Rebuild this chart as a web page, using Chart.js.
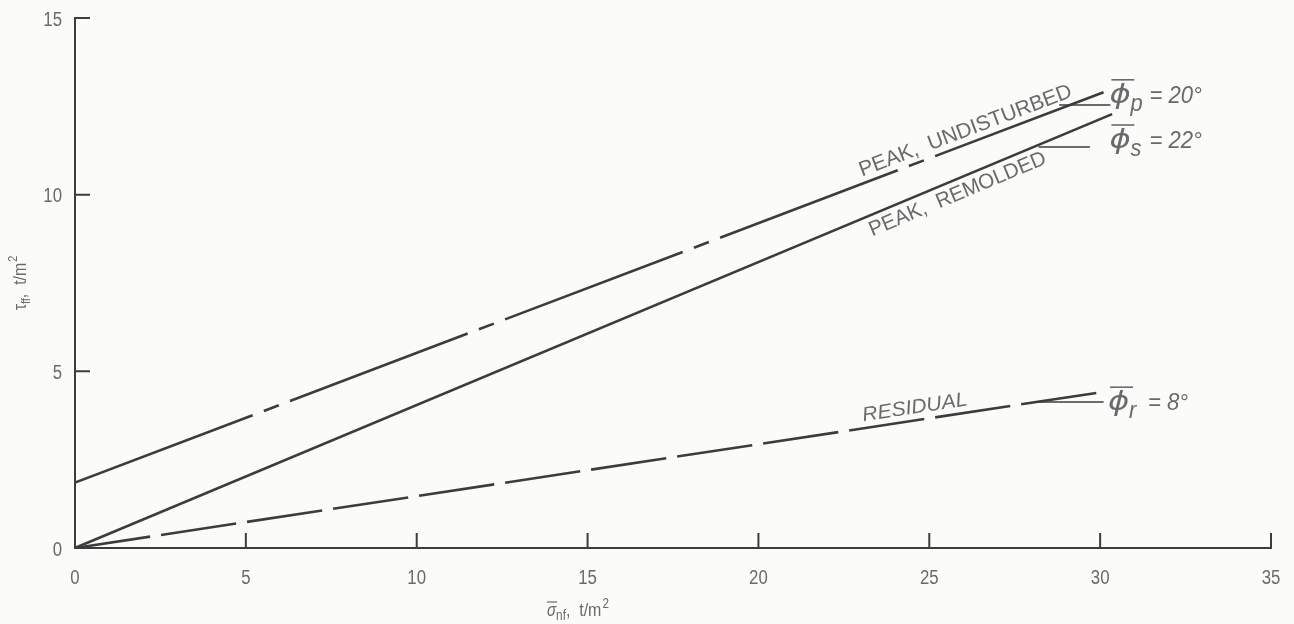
<!DOCTYPE html>
<html>
<head>
<meta charset="utf-8">
<script src="https://cdn.jsdelivr.net/npm/chart.js@4.4.1/dist/chart.umd.min.js"></script>
<style>
  html, body { margin: 0; padding: 0; background: #fbfbf9; }
  #wrap { width: 1294px; height: 624px; position: relative; }
</style>
</head>
<body>
<div id="wrap"><canvas id="chartEnvoltoria"></canvas></div>
<script>
// valores (sigma_nf, tau_ff em t/m2)
const xTicks = [0, 5, 10, 15, 20, 25, 30, 35];
const yTicks = [0, 5, 10, 15];

const undisturbedX = [0, 30.1];
const undisturbedY = [1.85, 12.9];
const remoldedX = [0, 30.35];
const remoldedY = [0, 12.28];
const residualX = [0, 30.1];
const residualY = [0, 4.42];

// linhas de chamada das legendas de phi
const leaderPX = [28.8, 30.3];
const leaderPY = [12.54, 12.54];
const leaderSX = [28.2, 29.7];
const leaderSY = [11.35, 11.35];
const leaderRX = [28.1, 30.1];
const leaderRY = [4.13, 4.13];

const FONT = "'Liberation Sans', Arial, sans-serif";
const PHI_FONT = "'DejaVu Sans', sans-serif";
const INK = '#3c3c3c';
const TXT = '#6a6a6a';
const NARROW = 0.84;

function pts(xs, ys) {
    return xs.map((x, i) => ({ x: x, y: ys[i] }));
}

function lineSet(xs, ys, dash, width) {
    return {
        data: pts(xs, ys),
        showLine: true,
        borderColor: INK,
        borderWidth: width,
        borderDash: dash,
        pointRadius: 0,
        fill: false
    };
}

// texto condensado (escala horizontal), devolve a largura desenhada
function nText(c, text, x, y, size, o) {
    o = o || {};
    const sx = o.sx || NARROW;
    c.save();
    c.font = (o.italic ? 'italic ' : '') + size + 'px ' + (o.family || FONT);
    c.textBaseline = o.baseline || 'alphabetic';
    c.textAlign = 'left';
    const w = c.measureText(text).width * sx;
    let x0 = x;
    if (o.align === 'center') x0 = x - w / 2;
    if (o.align === 'right') x0 = x - w;
    c.translate(x0, y);
    c.scale(sx, 1);
    c.fillText(text, 0, 0);
    c.restore();
    return w;
}

function textW(c, text, size, italic, sx) {
    c.save();
    c.font = (italic ? 'italic ' : '') + size + 'px ' + FONT;
    const w = c.measureText(text).width * (sx || NARROW);
    c.restore();
    return w;
}

// desenha texto girado, esticado ate a largura alvo
function rotText(c, text, x, y, ang, font, targetW, baseline) {
    c.save();
    c.translate(x, y);
    c.rotate(ang);
    c.font = font;
    c.textBaseline = baseline;
    c.textAlign = 'left';
    const w = c.measureText(text).width;
    c.scale(targetW / w, 1);
    c.fillText(text, 0, 0);
    c.restore();
}

function lineAngle(sx, sy, xs, ys) {
    const x0 = sx.getPixelForValue(xs[0]), y0 = sy.getPixelForValue(ys[0]);
    const x1 = sx.getPixelForValue(xs[1]), y1 = sy.getPixelForValue(ys[1]);
    return Math.atan2(y1 - y0, x1 - x0);
}

function onLine(xs, ys, x) {
    return ys[0] + (ys[1] - ys[0]) * (x - xs[0]) / (xs[1] - xs[0]);
}

// phi com barra, subscrito e valor (b = linha de base)
function phiLabel(c, x, b, sub, rest) {
    c.save();
    c.fillStyle = TXT;
    c.strokeStyle = TXT;
    nText(c, '\u03D5', x - 1, b, 27, { italic: true, sx: 1.2, family: PHI_FONT });
    c.lineWidth = 1.6;
    c.beginPath();
    c.moveTo(x + 1, b - 23);
    c.lineTo(x + 24, b - 23);
    c.stroke();
    nText(c, sub, x + 20, b + 8, 23, { italic: true, sx: 0.95 });
    nText(c, '= ' + rest, x + 39, b, 24, { italic: true, sx: 0.92 });
    c.restore();
}

const annotations = {
    id: 'annotations',
    beforeDraw(chart) {
        const c = chart.ctx;
        c.save();
        c.fillStyle = '#fbfbf9';
        c.fillRect(0, 0, chart.width, chart.height);
        c.restore();
    },
    afterDraw(chart) {
        const c = chart.ctx;
        const sx = chart.scales.x, sy = chart.scales.y;
        const area = chart.chartArea;

        // marcas de escala para dentro
        c.save();
        c.strokeStyle = INK;
        c.lineWidth = 2;
        c.beginPath();
        sx.ticks.slice(1).forEach(t => {
            const p = sx.getPixelForValue(t.value);
            c.moveTo(p, area.bottom);
            c.lineTo(p, area.bottom - 15);
        });
        sy.ticks.slice(1).forEach(t => {
            const p = sy.getPixelForValue(t.value);
            c.moveTo(area.left, p);
            c.lineTo(area.left + 15, p);
        });
        c.stroke();
        c.restore();

        c.save();
        c.fillStyle = TXT;

        // rotulos das escalas
        sx.ticks.forEach(t => {
            nText(c, String(t.value), sx.getPixelForValue(t.value), area.bottom + 30, 20,
                { align: 'center', baseline: 'middle' });
        });
        sy.ticks.forEach(t => {
            nText(c, String(t.value), area.left - 13, sy.getPixelForValue(t.value) + 2, 20,
                { align: 'right', baseline: 'middle' });
        });

        // rotulos ao longo das retas
        let a = lineAngle(sx, sy, undisturbedX, undisturbedY);
        const x0 = 23.1;
        let px = sx.getPixelForValue(x0), py = sy.getPixelForValue(onLine(undisturbedX, undisturbedY, x0));
        rotText(c, 'PEAK,  UNDISTURBED', px + Math.sin(a) * 7, py - Math.cos(a) * 7, a,
            '21px ' + FONT, 226, 'alphabetic');

        a = lineAngle(sx, sy, remoldedX, remoldedY);
        px = sx.getPixelForValue(x0); py = sy.getPixelForValue(onLine(remoldedX, remoldedY, x0));
        rotText(c, 'PEAK,  REMOLDED', px - Math.sin(a) * 4, py + Math.cos(a) * 4, a,
            '21px ' + FONT, 190, 'top');

        a = lineAngle(sx, sy, residualX, residualY);
        px = sx.getPixelForValue(x0); py = sy.getPixelForValue(onLine(residualX, residualY, x0));
        rotText(c, 'RESIDUAL', px + Math.sin(a) * 7, py - Math.cos(a) * 7, a,
            'italic 20px ' + FONT, 106, 'alphabetic');

        // legendas de phi
        phiLabel(c, sx.getPixelForValue(30.3), sy.getPixelForValue(12.6), 'p', '20\u00B0');
        phiLabel(c, sx.getPixelForValue(30.3), sy.getPixelForValue(11.32), 's', '22\u00B0');
        phiLabel(c, sx.getPixelForValue(30.26), sy.getPixelForValue(3.9), 'r', '8\u00B0');

        // titulo do eixo y
        c.save();
        c.translate(26, 283);
        c.rotate(-Math.PI / 2);
        const tauW = textW(c, '\u03C4', 19);
        const ffW = textW(c, 'ff', 13);
        const restY = ',  t/m';
        const restW = textW(c, restY, 19);
        const start = -(tauW + ffW + restW + 7) / 2;
        nText(c, '\u03C4', start, 0, 19);
        nText(c, 'ff', start + tauW, 4, 13);
        nText(c, restY, start + tauW + ffW, 0, 19);
        nText(c, '2', start + tauW + ffW + restW + 1, -9, 13);
        c.restore();

        // titulo do eixo x
        c.save();
        const tx = 547, ty = 616;
        const sW = nText(c, '\u03C3', tx, ty, 18, { italic: true });
        c.strokeStyle = TXT;
        c.lineWidth = 1.2;
        c.beginPath();
        c.moveTo(tx, ty - 14);
        c.lineTo(tx + sW + 1, ty - 14);
        c.stroke();
        const nfW = nText(c, 'nf', tx + sW, ty + 4, 14);
        const tW = nText(c, ',  t/m', tx + sW + nfW, ty, 19);
        nText(c, '2', tx + sW + nfW + tW + 1, ty - 8, 14);
        c.restore();

        c.restore();
    }
};

const ctx = document.getElementById('chartEnvoltoria');
new Chart(ctx, {
    type: 'scatter',
    data: {
        datasets: [
            lineSet(undisturbedX, undisturbedY, [190, 12, 16, 12], 2.6),
            lineSet(remoldedX, remoldedY, [], 2.6),
            lineSet(residualX, residualY, [76, 11], 2.6),
            lineSet(leaderPX, leaderPY, [], 1.5),
            lineSet(leaderSX, leaderSY, [], 1.5),
            lineSet(leaderRX, leaderRY, [], 1.5)
        ]
    },
    options: {
        responsive: true,
        maintainAspectRatio: false,
        animation: false,
        layout: { padding: { top: 18, right: 23, left: 0, bottom: 0 } },
        plugins: {
            legend: { display: false },
            tooltip: { enabled: false }
        },
        scales: {
            x: {
                type: 'linear',
                min: 0,
                max: 35,
                afterFit: s => { s.height = 76; },
                afterBuildTicks: s => { s.ticks = xTicks.map(v => ({ value: v })); },
                ticks: { display: false },
                grid: { drawOnChartArea: false, drawTicks: false },
                border: { color: INK, width: 2 }
            },
            y: {
                type: 'linear',
                min: 0,
                max: 15,
                afterFit: s => { s.width = 75; },
                afterBuildTicks: s => { s.ticks = yTicks.map(v => ({ value: v })); },
                ticks: { display: false },
                grid: { drawOnChartArea: false, drawTicks: false },
                border: { color: INK, width: 2 }
            }
        }
    },
    plugins: [annotations]
});
</script>
</body>
</html>
